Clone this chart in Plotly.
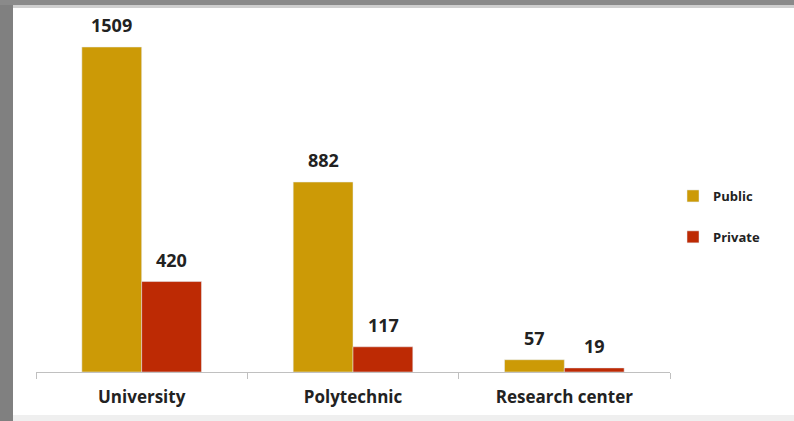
import plotly.graph_objects as go

categories = ["University", "Polytechnic", "Research center"]
public_vals = [1509, 882, 57]
private_vals = [420, 117, 19]

PUB = "#CC9A06"
PRI = "#BD2A04"
FONT = "Open Sans"

L, R, T, B = 36, 124, 20, 49
W, H = 794, 421
pw, ph = W - L - R, H - T - B

fig = go.Figure()
fig.add_trace(go.Bar(x=categories, y=public_vals, name="Public", marker_color=PUB,
                     legendgroup="a"))
fig.add_trace(go.Bar(x=categories, y=private_vals, name="Private", marker_color=PRI,
                     legendgroup="b"))

# value labels
for vals, shift in ((public_vals, -30), (private_vals, 30)):
    for c, v in zip(categories, vals):
        fig.add_annotation(x=c, y=v, text=str(v), showarrow=False, xshift=shift, yshift=22,
                           yanchor="middle",
                           font=dict(family=FONT, size=18, color="#222222", weight="bold"))

def px_x(x):
    return (x - L) / pw

def px_y(y):
    return (H - B - y) / ph

shapes = [
    dict(type="rect", xref="paper", yref="paper", x0=px_x(0), x1=px_x(13), y0=px_y(H), y1=px_y(0),
         fillcolor="#808080", line_width=0, layer="above"),
    dict(type="rect", xref="paper", yref="paper", x0=px_x(0), x1=px_x(W), y0=px_y(5), y1=px_y(0),
         fillcolor="#8a8a8a", line_width=0, layer="above"),
    dict(type="rect", xref="paper", yref="paper", x0=px_x(13), x1=px_x(W), y0=px_y(8), y1=px_y(5),
         fillcolor="#cfcfcf", line_width=0, layer="above"),
    dict(type="rect", xref="paper", yref="paper", x0=px_x(13), x1=px_x(W), y0=px_y(H), y1=px_y(415),
         fillcolor="#efefef", line_width=0, layer="above"),
]

fig.update_layout(
    width=W, height=H,
    margin=dict(l=L, r=R, t=T, b=B),
    paper_bgcolor="white", plot_bgcolor="white",
    barmode="group", bargap=0.434, bargroupgap=0,
    shapes=shapes,
    showlegend=True,
    legend=dict(x=1.03 - 16 / pw, y=px_y(181), xanchor="left", yanchor="top",
                font=dict(family=FONT, size=13, color="#222222", weight="bold"),
                tracegroupgap=21, itemwidth=30),
    xaxis=dict(range=[-0.5, 2.5], showline=True, linecolor="#c0c0c0", linewidth=1,
               ticks="outside", tickson="boundaries", ticklen=6, tickcolor="#c0c0c0",
               ticklabelstandoff=10,
               tickfont=dict(family=FONT, size=17, color="#222222", weight="bold"),
               showgrid=False),
    yaxis=dict(range=[0, ph / (325 / 1509)], visible=False, showgrid=False),
)

fig.write_html("out.html", config={"displayModeBar": False},
               post_script="document.body.style.margin='0';document.body.style.padding='0';")
